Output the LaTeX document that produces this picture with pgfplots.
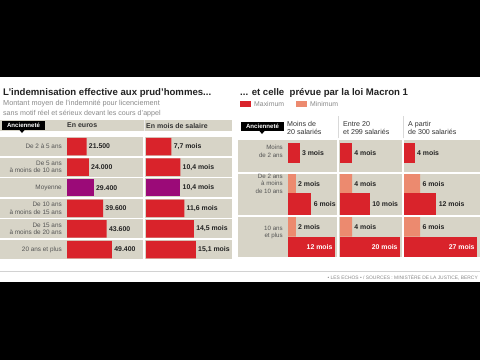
\documentclass[border=0pt]{standalone}
\usepackage{fontspec}
\setmainfont{Liberation Sans}
\usepackage{pgfplots}
\pgfplotsset{compat=1.18}
\definecolor{beige}{HTML}{D7D4C7}
\definecolor{redbar}{HTML}{D9232B}
\definecolor{purplebar}{HTML}{9B0A78}
\definecolor{salmon}{HTML}{EC8A6F}
\definecolor{txt}{HTML}{222222}
\definecolor{subtxt}{HTML}{8A8A8A}
\definecolor{lbl}{HTML}{555555}
\definecolor{hdr}{HTML}{333333}

\pgfplotsset{
 panel/.style={hide axis, scale only axis, height=124pt, ymin=136, ymax=260, y dir=reverse,
   xmin=0, clip=false, anchor=south west, xbar, point meta=explicit symbolic, nodes near coords,
   every node near coord/.style={font=\fontsize{6.9}{7}\selectfont\bfseries, text=txt, anchor=west, inner sep=2.2pt}},
 barA/.style={draw=none, fill=#1, bar shift=0pt},
}

\begin{document}
\begin{tikzpicture}
\begin{scope}[x=1pt,y=1pt]
\useasboundingbox (0,0) rectangle (480,360);
\fill[black] (0,0) rectangle (480,360);
\fill[white] (0,78) rectangle (480,283);

% ---------- left panel ----------
\node[anchor=base west, inner sep=0, font=\fontsize{9.6}{10}\selectfont\bfseries, text=txt] at (3,265) {L'indemnisation effective aux prud'hommes...};
\node[anchor=base west, inner sep=0, font=\fontsize{7.3}{8}\selectfont, text=subtxt] at (3,255) {Montant moyen de l'indemnité pour licenciement};
\node[anchor=base west, inner sep=0, font=\fontsize{7.1}{8}\selectfont, text=subtxt] at (3,245) {sans motif réel et sérieux devant les cours d'appel};

\fill[beige] (0,229) rectangle (232,240);
\draw[white!85!gray, line width=0.6pt] (144,229)--(144,240);
\fill[black] (2,230) rectangle (45,239.5);
\fill[black] (19.5,230)--(24.5,230)--(22,227)--cycle;
\node[font=\fontsize{6.1}{6}\selectfont\bfseries, text=white, inner sep=0] at (23.5,234.8) {Ancienneté};
\node[anchor=west, inner sep=0, font=\fontsize{7}{7}\selectfont\bfseries, text=hdr] at (67,234.5) {En euros};
\node[anchor=west, inner sep=0, font=\fontsize{7}{7}\selectfont\bfseries, text=hdr] at (146,234.5) {En mois de salaire};

\foreach \t in {223,202.4,181.8,161.2,140.6,120}{
  \fill[beige] (0,\t-19) rectangle (143,\t);
  \fill[beige] (145,\t-19) rectangle (232,\t);
}
\begin{scope}[every node/.style={anchor=east, align=right, inner sep=0, font=\fontsize{6.4}{7.4}\selectfont, text=lbl}]
\node at (62,213.5) {De 2 à 5 ans};
\node at (62,192.9) {De 5 ans\\à moins de 10 ans};
\node at (62,172.3) {Moyenne};
\node at (62,151.7) {De 10 ans\\à moins de 15 ans};
\node at (62,131.1) {De 15 ans\\à moins de 20 ans};
\node at (62,110.5) {20 ans et plus};
\end{scope}

% ---------- right panel ----------
\node[anchor=base west, inner sep=0, font=\fontsize{9.6}{10}\selectfont\bfseries, text=txt] at (240,265) {... et celle \ prévue par la loi Macron 1};
\fill[redbar] (240,253) rectangle (251,259);
\node[anchor=west, inner sep=0, font=\fontsize{6.9}{7}\selectfont, text=subtxt] at (254,256) {Maximum};
\fill[salmon] (296,253) rectangle (307,259);
\node[anchor=west, inner sep=0, font=\fontsize{6.9}{7}\selectfont, text=subtxt] at (310,256) {Minimum};

\fill[black] (241,229) rectangle (284,238.5);
\fill[black] (259.5,229)--(264.5,229)--(262,226)--cycle;
\node[font=\fontsize{6.1}{6}\selectfont\bfseries, text=white, inner sep=0] at (262.5,233.8) {Ancienneté};
\begin{scope}[every node/.style={anchor=north west, align=left, inner sep=0, font=\fontsize{7.1}{8.3}\selectfont, text=hdr}]
\node at (287,239) {Moins de\\20 salariés};
\node at (343,239) {Entre 20\\et 299 salariés};
\node at (408,239) {A partir\\de 300 salariés};
\end{scope}
\draw[gray!30, line width=0.6pt] (338,222)--(338,244);
\draw[gray!30, line width=0.6pt] (403,222)--(403,244);

\foreach \b/\t in {188/220,145/186,103/143}{
  \fill[beige] (238,\b) rectangle (337,\t);
  \fill[beige] (339,\b) rectangle (402,\t);
  \fill[beige] (404,\b) rectangle (480,\t);
}
\begin{scope}[every node/.style={align=right, inner sep=0, font=\fontsize{6.2}{7.5}\selectfont, text=lbl}]
\node[anchor=east] at (283,208.5) {Moins\\de 2 ans};
\node[anchor=north east] at (283,186.5) {De 2 ans\\à moins\\de 10 ans};
\node[anchor=north east] at (283,134.5) {10 ans\\et plus};
\end{scope}

% footer
\draw[gray!35, line width=0.5pt] (0,89)--(480,89);
\node[anchor=east, inner sep=0, font=\fontsize{4.9}{5}\selectfont, text=subtxt] at (478,82) {• LES ECHOS • / SOURCES : MINISTÈRE DE LA JUSTICE, BERCY};
\end{scope}

% ---------- left bars ----------
\begin{axis}[panel, at={(67pt,100pt)}, width=76pt, xmax=83516]
\addplot[barA=redbar, bar width=17.5pt] coordinates {
 (21500,146.5) [21.500]
 (24000,167.1) [24.000]
 (39600,208.3) [39.600]
 (43600,228.9) [43.600]
 (49400,249.5) [49.400]
};
\addplot[barA=purplebar, bar width=17.5pt] coordinates {(29400,187.7) [29.400]};
\end{axis}

\begin{axis}[panel, at={(146pt,100pt)}, width=86pt, xmax=26.06]
\addplot[barA=redbar, bar width=17.5pt] coordinates {
 (7.7,146.5) [7,7 mois]
 (10.4,167.1) [10,4 mois]
 (11.6,208.3) [11,6 mois]
 (14.5,228.9) [14,5 mois]
 (15.1,249.5) [15,1 mois]
};
\addplot[barA=purplebar, bar width=17.5pt] coordinates {(10.4,187.7) [10,4 mois]};
\end{axis}

% ---------- right bars ----------
% column 1 : moins de 20 salariés
\begin{axis}[panel, at={(288pt,100pt)}, width=49pt, xmax=12.56]
\addplot[barA=redbar, bar width=20pt] coordinates {(3,153) [3 mois]};
\addplot[barA=salmon, bar width=19.5pt] coordinates {(2,183.75) [2 mois] (2,226.75) [2 mois]};
\addplot[barA=redbar, bar width=22pt] coordinates {(6,204) [6 mois]};
\addplot[barA=redbar, bar width=20pt, nodes near coords align={left},
  every node near coord/.append style={anchor=east, text=white}] coordinates {(12,247) [12 mois]};
\end{axis}

% column 2 : entre 20 et 299 salariés
\begin{axis}[panel, at={(340pt,100pt)}, width=62pt, xmax=20.67]
\addplot[barA=redbar, bar width=20pt] coordinates {(4,153) [4 mois]};
\addplot[barA=salmon, bar width=19.5pt] coordinates {(4,183.75) [4 mois] (4,226.75) [4 mois]};
\addplot[barA=redbar, bar width=22pt] coordinates {(10,204) [10 mois]};
\addplot[barA=redbar, bar width=20pt, nodes near coords align={left},
  every node near coord/.append style={anchor=east, text=white}] coordinates {(20,247) [20 mois]};
\end{axis}

% column 3 : a partir de 300 salariés
\begin{axis}[panel, at={(404pt,100pt)}, width=74pt, xmax=27.4]
\addplot[barA=redbar, bar width=20pt] coordinates {(4,153) [4 mois]};
\addplot[barA=salmon, bar width=19.5pt] coordinates {(6,183.75) [6 mois] (6,226.75) [6 mois]};
\addplot[barA=redbar, bar width=22pt] coordinates {(12,204) [12 mois]};
\addplot[barA=redbar, bar width=20pt, nodes near coords align={left},
  every node near coord/.append style={anchor=east, text=white}] coordinates {(27,247) [27 mois]};
\end{axis}
\end{tikzpicture}
\end{document}
